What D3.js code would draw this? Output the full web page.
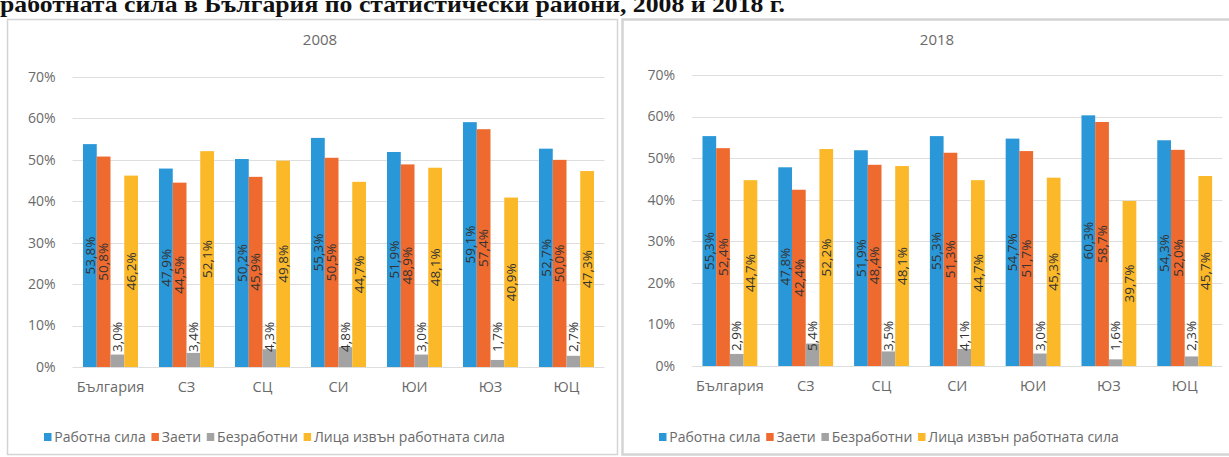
<!DOCTYPE html>
<html><head><meta charset="utf-8">
<script src="https://cdn.jsdelivr.net/npm/d3@7"></script>
<style>html,body{margin:0;padding:0;background:#fff;overflow:hidden}</style>
</head><body>
<svg id="c" width="1229" height="457"></svg>
<script>
const categories = ["България","СЗ","СЦ","СИ","ЮИ","ЮЗ","ЮЦ"];
const seriesNames = ["Работна сила","Заети","Безработни","Лица извън работната сила"];
const yTicks = [0,10,20,30,40,50,60,70];
// 2008
const labour2008   = [53.8,47.9,50.2,55.3,51.9,59.1,52.7];
const employed2008 = [50.8,44.5,45.9,50.5,48.9,57.4,50.0];
const unemp2008    = [3.0,3.4,4.3,4.8,3.0,1.7,2.7];
const outside2008  = [46.2,52.1,49.8,44.7,48.1,40.9,47.3];
// 2018
const labour2018   = [55.3,47.8,51.9,55.3,54.7,60.3,54.3];
const employed2018 = [52.4,42.4,48.4,51.3,51.7,58.7,52.0];
const unemp2018    = [2.9,5.4,3.5,4.1,3.0,1.6,2.3];
const outside2018  = [44.7,52.2,48.1,44.7,45.3,39.7,45.7];

const colors = ["#2a97d8","#ef6a2e","#a3a3a3","#fbb829"];
const svg = d3.select("#c");
const FONT = "'Open Sans', 'Noto Sans', sans-serif";
const fmt = v => v.toFixed(1).replace(".", ",") + "%";

// title (cut off at top, as in the source)
svg.append("text").attr("x", 0).attr("y", 12)
  .attr("font-family", "'Liberation Serif','Times New Roman',serif")
  .attr("font-weight", "bold").attr("font-size", 24).attr("fill", "#111")
  .attr("textLength", 785).attr("lengthAdjust", "spacingAndGlyphs")
  .text("работната сила в България по статистически райони, 2008 и 2018 г.");

function panel(cfg, data) {
  const g = svg.append("g");
  g.append("rect").attr("x", cfg.fx).attr("y", cfg.fy).attr("width", cfg.fw).attr("height", cfg.fh)
    .attr("fill", "#fff").attr("stroke", "#d4d4d4").attr("stroke-width", cfg.sw);
  const y = d3.scaleLinear().domain([0, 70]).range([cfg.y0, cfg.y70]);
  const x = d3.scaleBand().domain(categories).range([cfg.x0, cfg.x1]).paddingInner(21/76).paddingOuter(21/152);
  const xs = d3.scaleBand().domain(d3.range(4)).range([0, x.bandwidth()]);
  g.selectAll("line.grid").data(yTicks).join("line")
    .attr("x1", cfg.x0).attr("x2", cfg.x1)
    .attr("y1", d => Math.round(y(d)) + 0.5).attr("y2", d => Math.round(y(d)) + 0.5)
    .attr("stroke", "#dedede").attr("stroke-width", 1);
  g.selectAll("text.yl").data(yTicks).join("text")
    .attr("x", cfg.x0 - 17).attr("y", d => y(d)).attr("dy", "0.35em")
    .attr("text-anchor", "end").attr("font-family", FONT).attr("font-size", 14).attr("fill", "#6a6a6a")
    .text(d => d + "%");
  g.append("text").attr("x", cfg.tx).attr("y", 45).attr("text-anchor", "middle")
    .attr("font-family", FONT).attr("font-size", 15).attr("fill", "#6a6a6a").text(cfg.title);
  data.forEach((arr, si) => {
    g.selectAll("rect.s" + si).data(arr).join("rect")
      .attr("x", (d, i) => x(categories[i]) + xs(si)).attr("width", xs.bandwidth())
      .attr("y", d => y(d)).attr("height", d => y(0) - y(d)).attr("fill", colors[si]);
  });
  data.forEach((arr, si) => {
    g.selectAll("text.l" + si).data(arr).join("text")
      .attr("transform", (d, i) => {
        const cx = x(categories[i]) + xs(si) + xs.bandwidth() / 2;
        const cy = Math.min((y(d) + y(0)) / 2, y(0) - 30);
        return `translate(${cx},${cy}) rotate(-90)`;
      })
      .attr("text-anchor", "middle").attr("dy", "0.35em")
      .attr("font-family", FONT).attr("font-size", 13.5).attr("fill", "#333")
      .text(d => fmt(d));
  });
  g.selectAll("text.cl").data(categories).join("text")
    .attr("x", d => x(d) + x.bandwidth() / 2).attr("y", cfg.y0 + 25)
    .attr("text-anchor", "middle").attr("font-family", FONT).attr("font-size", 14.5).attr("fill", "#6a6a6a")
    .text(d => d);
  const lg = g.append("g");
  let cx = 0;
  seriesNames.forEach((n, i) => {
    lg.append("rect").attr("x", cx).attr("y", -4).attr("width", 8).attr("height", 8).attr("fill", colors[i]);
    const t = lg.append("text").attr("x", cx + 11).attr("y", 0).attr("dy", "0.35em")
      .attr("font-family", FONT).attr("font-size", 15).attr("fill", "#6a6a6a").text(n);
    cx += 11 + t.node().getComputedTextLength() + 6;
  });
  const w = cx - 6;
  lg.attr("transform", `translate(${cfg.lx0},437) scale(${(cfg.lx1 - cfg.lx0) / w},1)`);
}

panel({fx: 7.5, fy: 19.5, fw: 610, fh: 435, sw: 1.5, x0: 72.5, x1: 604.5, y0: 367, y70: 77,
       tx: 320, title: "2008", lx0: 44, lx1: 505},
      [labour2008, employed2008, unemp2008, outside2008]);
panel({fx: 622.5, fy: 19.5, fw: 620, fh: 435, sw: 2.5, x0: 692, x1: 1222.6, y0: 366, y70: 75,
       tx: 937, title: "2018", lx0: 659, lx1: 1119},
      [labour2018, employed2018, unemp2018, outside2018]);
</script>
</body></html>
